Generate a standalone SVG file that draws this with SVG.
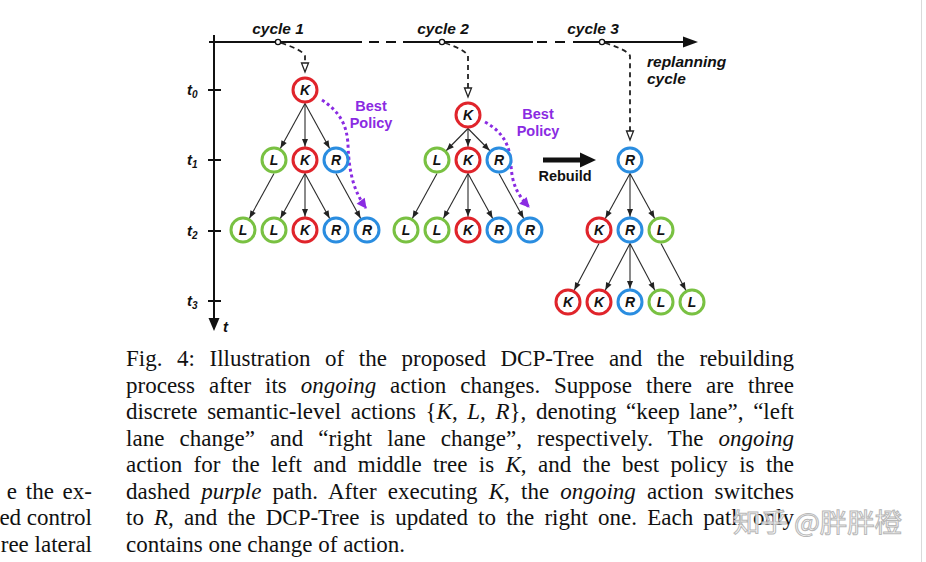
<svg xmlns="http://www.w3.org/2000/svg" width="926" height="562" viewBox="0 0 926 562">
<style>
.lbl{font-family:"Liberation Sans",Arial,sans-serif;font-weight:bold;font-style:italic;fill:#111}
.bp{font-family:"Liberation Sans",Arial,sans-serif;font-weight:bold;font-size:14.5px;fill:#8a2be2;text-anchor:middle}
.node circle{fill:#fff;stroke-width:3}
.node text{font-family:"Liberation Sans",Arial,sans-serif;font-weight:bold;font-style:italic;font-size:14px;text-anchor:middle;fill:#111}
.k circle{stroke:#e0242b}
.l circle{stroke:#79c142}
.r circle{stroke:#2a8de0}
.edge{stroke:#2a2a2a;stroke-width:1.1;fill:none;marker-end:url(#ah)}
.dash{stroke:#222;stroke-width:1.8;fill:none;stroke-dasharray:5,4}
.tri{fill:#fff;stroke:#222;stroke-width:1.3}
.pol{stroke:#8a2be2;stroke-width:3;fill:none;stroke-dasharray:3,3;marker-end:url(#ph)}
.cap{font-family:"Liberation Serif","Times New Roman",serif;font-size:23px;fill:#111}
.it{font-style:italic}
</style>
<defs>
<marker id="ah" markerUnits="userSpaceOnUse" markerWidth="1" markerHeight="1" refX="0" refY="0" orient="auto" overflow="visible"><path d="M-21,-3 L-13.5,0 L-21,3 z" fill="#222"/></marker>
<marker id="ph" markerUnits="userSpaceOnUse" markerWidth="1" markerHeight="1" refX="0" refY="0" orient="auto" overflow="visible"><path d="M-9,-5 L1,0 L-9,5 z" fill="#8a2be2"/></marker>
</defs>
<rect width="926" height="562" fill="#fff"/>
<line x1="921.5" y1="0" x2="921.5" y2="562" stroke="#dadada" stroke-width="1"/>

<g id="axes">
<line x1="209" y1="42" x2="362" y2="42" stroke="#111" stroke-width="2"/>
<line x1="369" y1="42" x2="413" y2="42" stroke="#111" stroke-width="2" stroke-dasharray="10,7"/>
<line x1="413" y1="42" x2="533" y2="42" stroke="#111" stroke-width="2"/>
<line x1="537" y1="42" x2="573" y2="42" stroke="#111" stroke-width="2" stroke-dasharray="10,8"/>
<line x1="573" y1="42" x2="685" y2="42" stroke="#111" stroke-width="2"/>
<polygon points="683,36.5 698,42 683,47.5" fill="#111"/>
<line x1="214" y1="35" x2="214" y2="320" stroke="#111" stroke-width="2"/>
<polygon points="208.5,318 214,331 219.5,318" fill="#111"/>
<g stroke="#111" stroke-width="2">
<line x1="208" y1="90" x2="221" y2="90"/>
<line x1="208" y1="160" x2="221" y2="160"/>
<line x1="208" y1="231" x2="221" y2="231"/>
<line x1="208" y1="301" x2="221" y2="301"/>
</g>
<text class="lbl" x="187" y="95" font-size="15">t<tspan font-size="10" dy="3">0</tspan></text>
<text class="lbl" x="187" y="165" font-size="15">t<tspan font-size="10" dy="3">1</tspan></text>
<text class="lbl" x="187" y="236" font-size="15">t<tspan font-size="10" dy="3">2</tspan></text>
<text class="lbl" x="187" y="306" font-size="15">t<tspan font-size="10" dy="3">3</tspan></text>
<text class="lbl" x="223" y="332" font-size="15">t</text>
<text class="lbl" x="278" y="34" font-size="15.5" text-anchor="middle">cycle 1</text>
<text class="lbl" x="443" y="34" font-size="15.5" text-anchor="middle">cycle 2</text>
<text class="lbl" x="593" y="34" font-size="15.5" text-anchor="middle">cycle 3</text>
<text class="lbl" x="647" y="67" font-size="15.5">replanning</text>
<text class="lbl" x="647" y="84" font-size="15.5">cycle</text>
<circle cx="278" cy="42" r="2.6" fill="#fff" stroke="#111" stroke-width="1.3"/>
<circle cx="442" cy="42" r="2.6" fill="#fff" stroke="#111" stroke-width="1.3"/>
<circle cx="602" cy="42" r="2.6" fill="#fff" stroke="#111" stroke-width="1.3"/>
</g>

<g id="connectors">
<path class="dash" d="M281,43 Q303,50 305,56 L305,63"/>
<polygon class="tri" points="301.5,63 308.5,63 305,72"/>
<path class="dash" d="M445,43 Q466,50 468,56 L468,88"/>
<polygon class="tri" points="464.5,88 471.5,88 468,97"/>
<path class="dash" d="M605,43 Q628,50 630,56 L630,131"/>
<polygon class="tri" points="626.5,131 633.5,131 630,140"/>

<line class="edge" x1="305" y1="103.5" x2="274" y2="160"/>
<line class="edge" x1="305" y1="103.5" x2="305" y2="160"/>
<line class="edge" x1="305" y1="103.5" x2="336" y2="160"/>
<line class="edge" x1="274" y1="173.5" x2="243" y2="230"/>
<line class="edge" x1="305" y1="173.5" x2="274" y2="230"/>
<line class="edge" x1="305" y1="173.5" x2="305" y2="230"/>
<line class="edge" x1="305" y1="173.5" x2="336" y2="230"/>
<line class="edge" x1="336" y1="173.5" x2="367" y2="230"/>

<line class="edge" x1="468" y1="128.5" x2="437" y2="160"/>
<line class="edge" x1="468" y1="128.5" x2="468" y2="160"/>
<line class="edge" x1="468" y1="128.5" x2="499" y2="160"/>
<line class="edge" x1="437" y1="173.5" x2="406" y2="230"/>
<line class="edge" x1="468" y1="173.5" x2="437" y2="230"/>
<line class="edge" x1="468" y1="173.5" x2="468" y2="230"/>
<line class="edge" x1="468" y1="173.5" x2="499" y2="230"/>
<line class="edge" x1="499" y1="173.5" x2="530" y2="230"/>

<line class="edge" x1="630" y1="173.5" x2="599" y2="230"/>
<line class="edge" x1="630" y1="173.5" x2="630" y2="230"/>
<line class="edge" x1="630" y1="173.5" x2="661" y2="230"/>
<line class="edge" x1="599" y1="243.5" x2="568" y2="302"/>
<line class="edge" x1="630" y1="243.5" x2="599" y2="302"/>
<line class="edge" x1="630" y1="243.5" x2="630" y2="302"/>
<line class="edge" x1="630" y1="243.5" x2="661" y2="302"/>
<line class="edge" x1="661" y1="243.5" x2="692" y2="302"/>

<path class="pol" d="M322,100 C340,112 347,125 348,145 C349,175 355,193 366,208"/>
<path class="pol" d="M485,122 C503,132 510,145 511,165 C512,185 518,195 529,207"/>

<line x1="543" y1="160" x2="582" y2="160" stroke="#111" stroke-width="5"/>
<polygon points="580,152.5 596,160 580,167.5" fill="#111"/>
</g>

<text class="bp" x="371" y="111">Best</text>
<text class="bp" x="371" y="128">Policy</text>
<text class="bp" x="538" y="119">Best</text>
<text class="bp" x="538" y="136">Policy</text>
<text x="565" y="181" font-family="Liberation Sans,Arial,sans-serif" font-weight="bold" font-size="14.5" text-anchor="middle" fill="#111">Rebuild</text>

<g id="a0" class="node k"><circle cx="305" cy="90" r="12"/><text x="305" y="95">K</text></g>
<g id="a1" class="node l"><circle cx="274" cy="160" r="12"/><text x="274" y="165">L</text></g>
<g id="a2" class="node k"><circle cx="305" cy="160" r="12"/><text x="305" y="165">K</text></g>
<g id="a3" class="node r"><circle cx="336" cy="160" r="12"/><text x="336" y="165">R</text></g>
<g id="a4" class="node l"><circle cx="243" cy="230" r="12"/><text x="243" y="235">L</text></g>
<g id="a5" class="node l"><circle cx="274" cy="230" r="12"/><text x="274" y="235">L</text></g>
<g id="a6" class="node k"><circle cx="305" cy="230" r="12"/><text x="305" y="235">K</text></g>
<g id="a7" class="node r"><circle cx="336" cy="230" r="12"/><text x="336" y="235">R</text></g>
<g id="a8" class="node r"><circle cx="367" cy="230" r="12"/><text x="367" y="235">R</text></g>

<g id="b0" class="node k"><circle cx="468" cy="115" r="12"/><text x="468" y="120">K</text></g>
<g id="b1" class="node l"><circle cx="437" cy="160" r="12"/><text x="437" y="165">L</text></g>
<g id="b2" class="node k"><circle cx="468" cy="160" r="12"/><text x="468" y="165">K</text></g>
<g id="b3" class="node r"><circle cx="499" cy="160" r="12"/><text x="499" y="165">R</text></g>
<g id="b4" class="node l"><circle cx="406" cy="230" r="12"/><text x="406" y="235">L</text></g>
<g id="b5" class="node l"><circle cx="437" cy="230" r="12"/><text x="437" y="235">L</text></g>
<g id="b6" class="node k"><circle cx="468" cy="230" r="12"/><text x="468" y="235">K</text></g>
<g id="b7" class="node r"><circle cx="499" cy="230" r="12"/><text x="499" y="235">R</text></g>
<g id="b8" class="node r"><circle cx="530" cy="230" r="12"/><text x="530" y="235">R</text></g>

<g id="c0" class="node r"><circle cx="630" cy="160" r="12"/><text x="630" y="165">R</text></g>
<g id="c1" class="node k"><circle cx="599" cy="230" r="12"/><text x="599" y="235">K</text></g>
<g id="c2" class="node r"><circle cx="630" cy="230" r="12"/><text x="630" y="235">R</text></g>
<g id="c3" class="node l"><circle cx="661" cy="230" r="12"/><text x="661" y="235">L</text></g>
<g id="c4" class="node k"><circle cx="568" cy="302" r="12"/><text x="568" y="307">K</text></g>
<g id="c5" class="node k"><circle cx="599" cy="302" r="12"/><text x="599" y="307">K</text></g>
<g id="c6" class="node r"><circle cx="630" cy="302" r="12"/><text x="630" y="307">R</text></g>
<g id="c7" class="node l"><circle cx="661" cy="302" r="12"/><text x="661" y="307">L</text></g>
<g id="c8" class="node l"><circle cx="692" cy="302" r="12"/><text x="692" y="307">L</text></g>

<g id="caption" class="cap">
<text x="126" y="366" word-spacing="8.8" textLength="668" lengthAdjust="spacing">Fig. 4: Illustration of the proposed DCP-Tree and the rebuilding</text>
<text x="126" y="392.5" word-spacing="8.2" textLength="668" lengthAdjust="spacing">process after its <tspan class="it">ongoing</tspan> action changes. Suppose there are three</text>
<text x="126" y="419" word-spacing="3.9" textLength="668" lengthAdjust="spacing">discrete semantic-level actions {<tspan class="it">K</tspan>, <tspan class="it">L</tspan>, <tspan class="it">R</tspan>}, denoting “keep lane”, “left</text>
<text x="126" y="445.5" word-spacing="9.2" textLength="668" lengthAdjust="spacing">lane change” and “right lane change”, respectively. The <tspan class="it">ongoing</tspan></text>
<text x="126" y="472" word-spacing="5.6" textLength="668" lengthAdjust="spacing">action for the left and middle tree is <tspan class="it">K</tspan>, and the best policy is the</text>
<text x="126" y="498.5" word-spacing="5.4" textLength="668" lengthAdjust="spacing">dashed <tspan class="it">purple</tspan> path. After executing <tspan class="it">K</tspan>, the <tspan class="it">ongoing</tspan> action switches</text>
<text x="126" y="525" word-spacing="4.4" textLength="668" lengthAdjust="spacing">to <tspan class="it">R</tspan>, and the DCP-Tree is updated to the right one. Each path only</text>
<text x="126" y="551.5">contains one change of action.</text>
<text x="92" y="498.5" text-anchor="end" word-spacing="3">e the ex-</text>
<text x="92" y="525" text-anchor="end">ed control</text>
<text x="92" y="551.5" text-anchor="end">ree lateral</text>
</g>
<text x="733" y="532" font-family="Noto Sans CJK SC,sans-serif" font-size="26" textLength="169" lengthAdjust="spacingAndGlyphs" fill="#ffffff" fill-opacity="0.8" stroke="#b8b8b8" stroke-width="1">知乎 @胖胖橙</text>
</svg>
